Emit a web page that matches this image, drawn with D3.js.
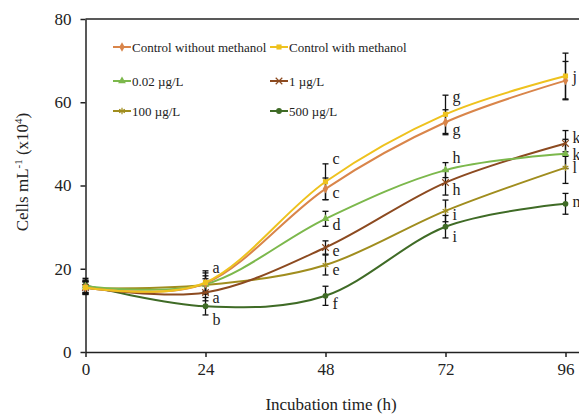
<!DOCTYPE html>
<html lang="en">
<head>
<meta charset="UTF-8">
<script src="https://d3js.org/d3.v7.min.js"></script>
<title>Cells</title>
<style>
  body { margin: 0; background: #fff; }
  text { font-family: "Liberation Serif", "Times New Roman", serif; fill: #222; }
</style>
</head>
<body>
<svg id="plot"></svg>
<script>
// hours
const hours = [0, 24, 48, 72, 96];
const seriesNames = ["Control without methanol", "Control with methanol", "0.02 µg/L", "1 µg/L", "100 µg/L", "500 µg/L"];
// means, cells mL-1 (x10^4)
const ctrlNoMeth = [15.5, 16.5, 39.2, 55.2, 65.2];
const ctrlMeth   = [15.5, 16.7, 40.9, 57.1, 66.3];
const c002       = [15.8, 16.3, 32.0, 43.7, 47.6];
const c1         = [15.5, 14.3, 25.1, 40.7, 50.1];
const c100       = [15.3, 16.1, 20.9, 33.9, 44.3];
const c500       = [16.0, 11.0, 13.5, 30.1, 35.6];
// error bars (+/-)
const errNoMeth = [1.5, 2.5, 2.6, 3.0, 4.6];
const errMeth   = [1.6, 2.8, 4.3, 4.6, 5.5];
const err002    = [1.5, 2.0, 1.8, 1.8, 3.5];
const err1      = [1.4, 2.0, 1.6, 3.0, 3.1];
const err100    = [1.5, 1.5, 2.4, 2.6, 3.8];
const err500    = [1.7, 2.1, 2.3, 2.7, 2.5];
// significance letters: [hour, value, letter]
const letters = [
  [24, 20.2, "a"], [24, 13.0, "a"], [24, 7.7, "b"],
  [48, 46.4, "c"], [48, 38.2, "c"], [48, 30.5, "d"], [48, 24.3, "e"], [48, 19.7, "e"], [48, 11.5, "f"],
  [72, 61.3, "g"], [72, 53.3, "g"], [72, 46.6, "h"], [72, 38.9, "h"], [72, 32.9, "i"], [72, 27.7, "i"],
  [96, 66.1, "j"], [96, 51.5, "k"], [96, 47.3, "k,l"], [96, 44.3, "l"], [96, 36.1, "m"]
];
const yTicks = [0, 20, 40, 60, 80];

const colors = ["#d9854a", "#eec21e", "#7cb84c", "#8c4a20", "#a08d1e", "#3f6b26"];
const shapes = [d3.symbolDiamond, d3.symbolSquare, d3.symbolTriangle, d3.symbolX, d3.symbolAsterisk, d3.symbolCircle];
const means = [ctrlNoMeth, ctrlMeth, c002, c1, c100, c500];
const errs = [errNoMeth, errMeth, err002, err1, err100, err500];

const width = 579, height = 416;
const svg = d3.select("#plot").attr("width", width).attr("height", height);

const x = d3.scaleLinear().domain([0, 98.7]).range([85.5, 579]);
const y = d3.scaleLinear().domain([0, 80]).range([352, 19]);

// top border
svg.append("line")
  .attr("x1", x(0)).attr("x2", width)
  .attr("y1", y(80)).attr("y2", y(80))
  .attr("stroke", "#222").attr("stroke-width", 1.5);

const xAxis = svg.append("g").attr("transform", `translate(0,${y(0)})`)
  .call(d3.axisBottom(x).tickValues(hours).tickSize(5).tickSizeOuter(0).tickPadding(6));
const yAxis = svg.append("g").attr("transform", `translate(${x(0)},0)`)
  .call(d3.axisLeft(y).tickValues(yTicks).tickSize(5).tickSizeOuter(0).tickPadding(9));
[xAxis, yAxis].forEach(g => {
  g.selectAll("path, line").attr("stroke", "#222").attr("stroke-width", 1.5);
  g.selectAll("text").attr("font-size", 17).attr("font-family", "Liberation Serif").attr("fill", "#222");
});

// titles
svg.append("text").attr("x", 331).attr("y", 410).attr("text-anchor", "middle")
  .attr("font-size", 17).text("Incubation time (h)");
const yt = svg.append("text").attr("transform", "translate(28,172) rotate(-90)")
  .attr("text-anchor", "middle").attr("font-size", 17);
yt.append("tspan").text("Cells mL");
yt.append("tspan").attr("font-size", 11).attr("dy", -6).text("-1");
yt.append("tspan").attr("dy", 6).text(" (x10");
yt.append("tspan").attr("font-size", 11).attr("dy", -6).text("4");
yt.append("tspan").attr("dy", 6).text(")");

const line = d3.line().x((d, i) => x(hours[i])).y(d => y(d)).curve(d3.curveCardinal.tension(0));

// error bars
const eb = svg.append("g").attr("stroke", "#111").attr("stroke-width", 1.3);
means.forEach((m, s) => {
  m.forEach((v, i) => {
    const cx = x(hours[i]), lo = y(v - errs[s][i]), hi = y(v + errs[s][i]);
    eb.append("line").attr("x1", cx).attr("x2", cx).attr("y1", lo).attr("y2", hi);
    eb.append("line").attr("x1", cx - 3).attr("x2", cx + 3).attr("y1", lo).attr("y2", lo);
    eb.append("line").attr("x1", cx - 3).attr("x2", cx + 3).attr("y1", hi).attr("y2", hi);
  });
});

function marker(g, s, cx, cy) {
  const stroke = shapes[s] === d3.symbolX || shapes[s] === d3.symbolAsterisk;
  g.append("path")
    .attr("d", d3.symbol().type(shapes[s]).size(stroke ? 30 : 26)())
    .attr("transform", `translate(${cx},${cy})`)
    .attr("fill", stroke ? "none" : colors[s])
    .attr("stroke", stroke ? colors[s] : "none")
    .attr("stroke-width", 1.2);
}

// lines, drawn bottom series first
[5, 4, 3, 2, 0, 1].forEach(s => {
  svg.append("path").attr("d", line(means[s])).attr("fill", "none")
    .attr("stroke", colors[s]).attr("stroke-width", 2);
  const g = svg.append("g");
  means[s].forEach((v, i) => marker(g, s, x(hours[i]), y(v)));
});

// letters
svg.append("g").selectAll("text").data(letters).enter().append("text")
  .attr("x", d => x(d[0]) + 7).attr("y", d => y(d[1])).attr("dy", "0.32em")
  .attr("font-size", 16).text(d => d[2]);

// legend
const legPos = [[113, 47], [270, 47], [113, 81], [270, 81], [113, 111], [270, 111]];
seriesNames.forEach((name, s) => {
  const [lx, ly] = legPos[s];
  const g = svg.append("g");
  g.append("line").attr("x1", lx).attr("x2", lx + 18).attr("y1", ly).attr("y2", ly)
    .attr("stroke", colors[s]).attr("stroke-width", 2);
  marker(g, s, lx + 9, ly);
  g.append("text").attr("x", lx + 19).attr("y", ly).attr("dy", "0.35em")
    .attr("font-size", 13).text(name);
});
</script>
</body>
</html>
